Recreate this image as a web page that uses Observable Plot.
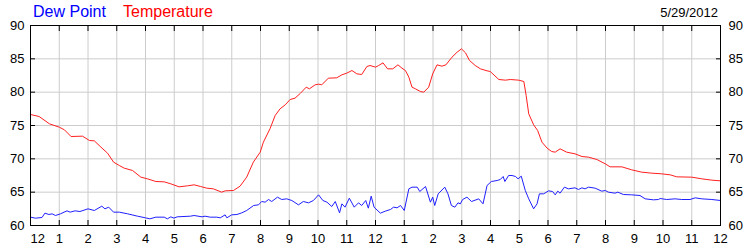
<!DOCTYPE html>
<html>
<head>
<meta charset="utf-8">
<script src="https://cdn.jsdelivr.net/npm/d3@7"></script>
<script src="https://cdn.jsdelivr.net/npm/@observablehq/plot@0.6"></script>
<style>
  body { margin: 0; background: #fff; }
  #wrap { position: relative; width: 750px; height: 250px; font-family: "Liberation Sans", Arial, sans-serif; }
  .lbl { position: absolute; white-space: nowrap; line-height: 16px; }
</style>
</head>
<body>
<div id="wrap">
  <span class="lbl" style="left:33px;top:4px;font-size:16px;color:#0000ff">Dew Point</span>
  <span class="lbl" style="left:123px;top:4px;font-size:16px;color:#ff0000">Temperature</span>
  <span class="lbl" style="right:32px;top:5px;font-size:13px;color:#000">5/29/2012</span>
</div>
<script>
const dateLabel = "5/29/2012";
const seriesNames = ["Dew Point", "Temperature"];
const xTicks = d3.range(0, 25);
const yTicks = [60, 65, 70, 75, 80, 85, 90];

const tempHours = [0,0.3,0.66,1.0,1.18,1.41,1.81,2.05,2.22,2.45,2.68,2.89,3.09,3.26,3.55,3.84,4.07,4.36,4.65,4.88,5.17,5.46,5.69,5.92,6.13,6.36,6.65,6.77,7.06,7.29,7.52,7.75,7.99,8.1,8.33,8.51,8.68,8.86,9.03,9.2,9.38,9.59,9.7,9.9,10.02,10.13,10.36,10.65,10.83,11.0,11.18,11.35,11.52,11.7,11.81,12.0,12.11,12.26,12.42,12.6,12.78,12.92,13.04,13.16,13.27,13.39,13.56,13.68,13.85,13.99,14.14,14.31,14.45,14.66,14.84,14.99,15.13,15.27,15.47,15.65,15.88,15.99,16.29,16.52,16.69,16.98,17.16,17.24,17.33,17.5,17.64,17.79,17.97,18.13,18.25,18.42,18.65,18.94,19.18,19.41,19.7,19.99,20.16,20.57,20.91,21.26,21.61,21.96,22.25,22.48,23.0,23.35,23.7,24.0];
const tempValues = [76.65,76.35,75.25,74.75,74.35,73.35,73.4,72.75,72.7,71.75,70.85,69.5,69.0,68.6,68.25,67.25,67.0,66.6,66.55,66.25,65.8,65.95,66.1,65.85,65.6,65.5,65.0,65.2,65.25,65.9,67.25,69.5,71.0,72.5,74.5,76.5,77.5,78.1,78.9,79.1,79.8,80.75,80.5,81.1,81.2,81.1,82.1,82.15,82.6,82.85,83.25,82.75,82.65,83.85,84.0,83.75,84.0,84.4,83.5,83.5,84.1,83.6,83.25,82.25,80.75,80.5,80.1,80.0,80.75,82.75,84.1,83.9,84.1,85.25,86.0,86.5,85.9,84.75,84.0,83.5,83.2,83.1,81.9,81.8,81.9,81.8,81.6,79.5,76.75,75.1,74.25,72.5,71.6,71.1,71.0,71.5,71.0,70.75,70.35,70.25,69.9,69.25,68.8,68.8,68.35,68.0,67.85,67.75,67.6,67.3,67.25,67.0,66.8,66.7];

const dewHours = [0,0.17,0.4,0.5,0.64,0.75,0.87,1.04,1.27,1.38,1.55,1.72,2.0,2.22,2.48,2.59,2.72,2.89,3.09,3.38,3.72,4.0,4.15,4.36,4.65,4.76,4.88,4.99,5.1,5.57,5.69,5.97,6.07,6.25,6.48,6.6,6.77,6.83,7.0,7.18,7.35,7.52,7.76,7.93,8.04,8.16,8.28,8.39,8.59,8.74,8.91,9.09,9.32,9.49,9.67,9.84,10.02,10.17,10.31,10.48,10.6,10.75,10.83,10.94,11.09,11.26,11.41,11.52,11.66,11.75,11.85,11.95,12.17,12.34,12.52,12.63,12.75,12.87,13.0,13.16,13.27,13.45,13.54,13.74,13.91,13.99,14.06,14.18,14.41,14.52,14.64,14.76,14.87,14.95,15.03,15.18,15.34,15.59,15.74,15.88,16.03,16.23,16.34,16.44,16.5,16.63,16.75,16.87,16.96,17.07,17.21,17.33,17.5,17.62,17.7,17.85,18.02,18.16,18.25,18.34,18.42,18.57,18.71,18.94,19.06,19.18,19.29,19.41,19.64,19.87,19.99,20.1,20.33,20.43,20.62,20.91,21.2,21.38,21.67,21.84,21.9,22.13,22.42,22.65,22.94,23.12,23.35,23.7,24.0];
const dewValues = [61.25,61.1,61.2,61.85,61.65,61.75,61.5,61.75,62.2,62.0,62.2,62.1,62.5,62.25,62.9,62.5,62.75,62.0,62.0,61.75,61.4,61.15,61.0,61.25,61.25,61.0,61.3,61.1,61.3,61.4,61.5,61.3,61.4,61.25,61.25,61.15,61.6,61.15,61.6,61.65,61.9,62.25,63.0,63.1,63.6,63.5,63.9,63.6,64.25,63.9,64.0,63.75,63.1,63.6,63.4,63.75,64.6,63.75,63.5,62.85,63.6,61.9,63.25,62.75,64.1,62.75,63.4,63.0,63.75,62.6,64.4,62.75,61.85,62.15,62.4,62.75,62.65,63.0,62.25,65.5,65.75,65.75,65.1,65.85,63.5,64.25,63.0,64.75,65.75,64.75,63.0,62.75,63.4,63.25,63.9,64.25,63.6,64.0,63.25,66.0,66.6,66.75,66.9,67.35,66.6,67.5,67.5,67.35,67.0,67.4,65.25,64.0,62.5,63.25,64.75,64.75,65.2,65.1,64.6,65.15,64.85,65.75,65.5,65.65,65.4,65.65,65.5,65.75,65.6,65.15,65.25,65.0,64.85,65.0,64.65,64.6,64.5,64.0,63.85,63.9,64.05,63.9,64.0,63.9,63.9,64.15,64.0,63.9,63.75];

const temp = tempHours.map((h, i) => ({h, v: tempValues[i]}));
const dew = dewHours.map((h, i) => ({h, v: dewValues[i]}));
const hourLabel = d => String(d % 12 === 0 ? 12 : d % 12);
const blank = () => "";

const chart = Plot.plot({
  width: 750,
  height: 250,
  marginTop: 25,
  marginBottom: 25,
  marginLeft: 30,
  marginRight: 30,
  style: {fontFamily: '"Liberation Sans", Arial, sans-serif', fontSize: "13px", background: "transparent", color: "#000"},
  x: {domain: [0, 24], ticks: xTicks, axis: null},
  y: {domain: [60, 90], ticks: yTicks, axis: null},
  marks: [
    Plot.gridX(xTicks, {stroke: "#cccccc", strokeOpacity: 1}),
    Plot.gridY(yTicks, {stroke: "#cccccc", strokeOpacity: 1}),
    Plot.line(dew, {x: "h", y: "v", stroke: "#1f1fff", strokeWidth: 1}),
    Plot.line(temp, {x: "h", y: "v", stroke: "#ff1f1f", strokeWidth: 1}),
    Plot.frame({stroke: "#000"}),
    Plot.axisX(xTicks, {anchor: "bottom", tickSize: 5, insetBottom: 5, tickFormat: blank, label: null}),
    Plot.axisX(xTicks, {anchor: "top", tickSize: 5, insetTop: 5, tickFormat: blank, label: null}),
    Plot.axisX(xTicks.filter(d => d > 0), {anchor: "bottom", tickSize: 0, tickPadding: 8, tickFormat: hourLabel, label: null}),
    Plot.axisX([0], {anchor: "bottom", tickSize: 0, tickPadding: 8, tickFormat: hourLabel, textAnchor: "start", label: null}),
    Plot.axisY(yTicks, {anchor: "left", tickSize: 5, insetLeft: 5, tickFormat: blank, label: null}),
    Plot.axisY(yTicks, {anchor: "right", tickSize: 5, insetRight: 5, tickFormat: blank, label: null}),
    Plot.axisY(yTicks, {anchor: "left", tickSize: 0, tickPadding: 6, label: null}),
    Plot.axisY(yTicks, {anchor: "right", tickSize: 0, tickPadding: 8, label: null})
  ]
});
chart.style.position = "absolute";
chart.style.left = "0";
chart.style.top = "0";
document.getElementById("wrap").prepend(chart);
</script>
</body>
</html>
